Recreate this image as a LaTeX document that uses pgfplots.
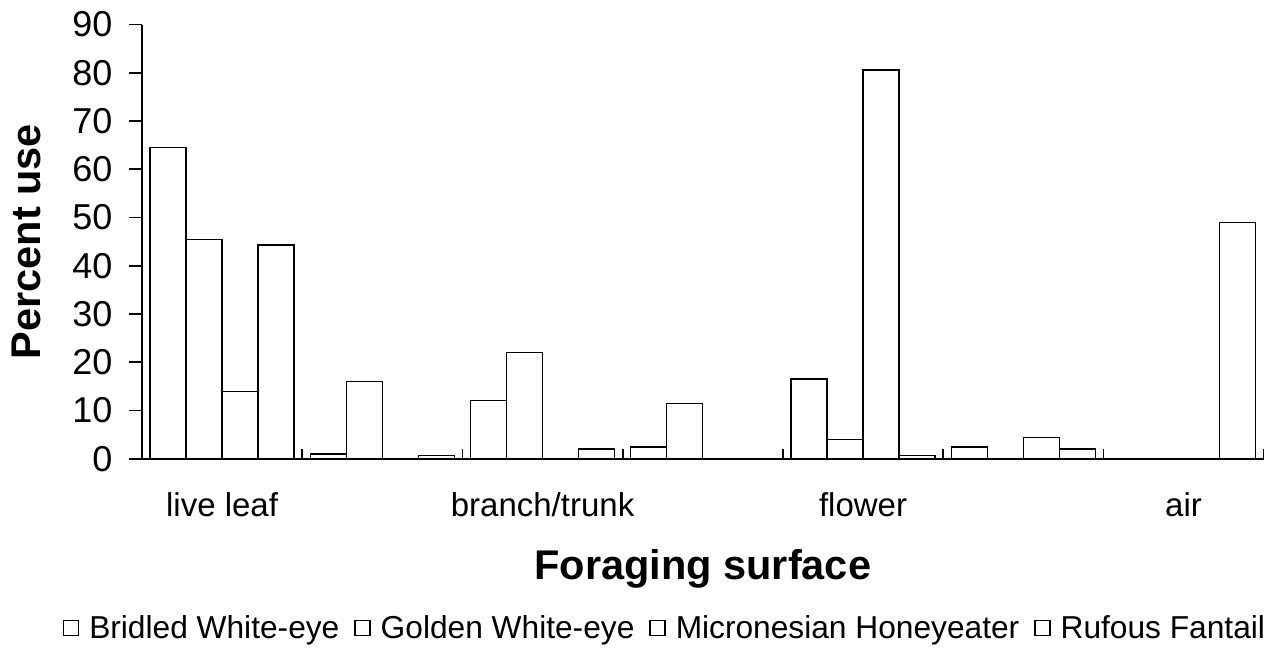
\documentclass[border=0pt]{standalone}
\usepackage{fontspec}
\setmainfont{Liberation Sans}
\usepackage{pgfplots}
\pgfplotsset{compat=1.18}
\pgfplotsset{sqlegend/.style={legend image code/.code={\draw[black, line width=1.3pt, fill=white] (0pt,-7.5pt) rectangle (15pt,7.5pt);}}}
\begin{document}
\begin{tikzpicture}
\useasboundingbox (0,0) rectangle (1288pt,656pt);
\begin{axis}[
  at={(142pt,197.3pt)}, anchor=south west,
  width=1121.7pt, height=434.2pt, scale only axis,
  ybar, bar width=0.2247,
  xmin=-0.5, xmax=6.5, ymin=0, ymax=90,
  axis x line*=bottom, axis y line*=left,
  axis line style={-, line width=1.7pt, black},
  xtick={0,...,6}, xticklabels={live leaf,,branch/trunk,,flower,,air},
  minor xtick={0.5,1.5,...,6.5},
  xtick align=inside, ytick align=outside,
  every major x tick/.append style={draw=none},
  every minor x tick/.append style={black, line width=1.7pt},
  every y tick/.append style={black, line width=1.7pt},
  minor tick length=10pt, major tick length=13pt,
  ytick={0,10,...,90},
  /pgf/number format/assume math mode=true,
  xticklabel style={anchor=base, inner sep=0pt, yshift=-58pt, font=\fontsize{33pt}{40pt}\selectfont},
  yticklabel style={anchor=east, inner sep=0pt, xshift=-16.5pt, font=\fontsize{36pt}{42pt}\selectfont},
  xlabel={Foraging surface},
  xlabel style={at={(axis description cs:0.5,-0.2771)}, anchor=base, inner sep=0pt, font=\bfseries\fontsize{41.5pt}{48pt}\selectfont},
  ylabel={Percent use},
  ylabel style={at={(axis description cs:-0.1033,0.5)}, anchor=center, inner sep=0pt, font=\bfseries\fontsize{41.5pt}{48pt}\selectfont},
  legend columns=4,
  legend style={at={(axis description cs:0.4654,-0.3899)}, anchor=center, draw=none, fill=none, inner sep=0pt, outer sep=0pt,
    font=\fontsize{31.7pt}{38pt}\selectfont, nodes={inner sep=0pt},
    /tikz/every odd column/.append style={column sep=10pt},
    /tikz/every even column/.append style={column sep=15pt}},
]
\addplot[bar shift=-0.337, fill=white, draw=black, line width=1.3pt, sqlegend] coordinates {(0,64.5) (1,1.0) (2,12) (3,2.4) (4,16.5) (5,2.4) (6,0)};
\addplot[bar shift=-0.1123, fill=white, draw=black, line width=1.3pt, sqlegend] coordinates {(0,45.5) (1,16) (2,22) (3,11.5) (4,4.0) (5,0) (6,0)};
\addplot[bar shift=0.1123, fill=white, draw=black, line width=1.3pt, sqlegend] coordinates {(0,14) (1,0) (2,0) (3,0) (4,80.6) (5,4.4) (6,0)};
\addplot[bar shift=0.337, fill=white, draw=black, line width=1.3pt, sqlegend] coordinates {(0,44.3) (1,0.6) (2,2) (3,0) (4,0.6) (5,2.0) (6,49)};
\legend{Bridled White-eye, Golden White-eye, Micronesian Honeyeater, Rufous Fantail}
\end{axis}
\end{tikzpicture}
\end{document}
